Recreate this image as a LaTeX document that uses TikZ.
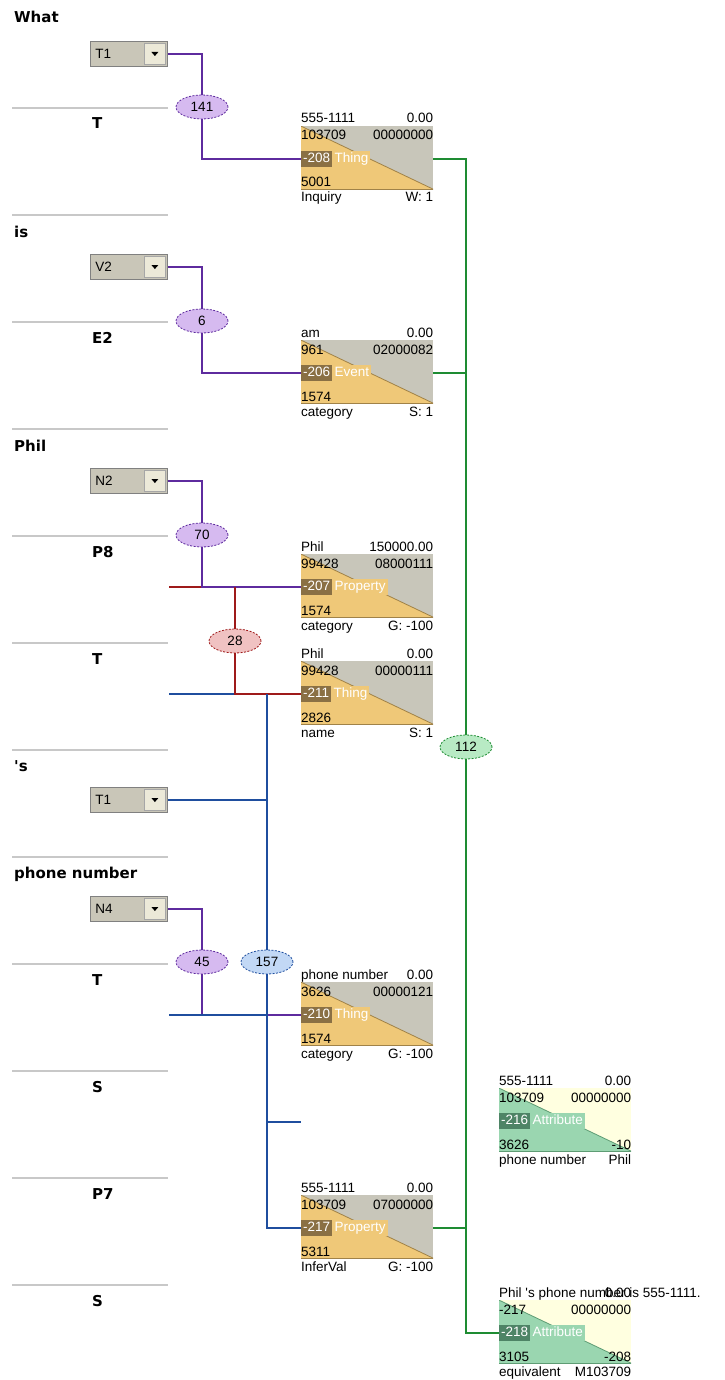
\documentclass[tikz,border=0pt]{standalone}
\usepackage{fontspec}
\setmainfont{Liberation Sans}
\newfontfamily\labfont{DejaVu Sans}
\usetikzlibrary{shapes.geometric, calc}

\definecolor{plum}{HTML}{5E2B9E}
\definecolor{plumsoft}{HTML}{D6BAF0}
\definecolor{brick}{HTML}{9E1A1A}
\definecolor{bricksoft}{HTML}{F0C2C2}
\definecolor{cobalt}{HTML}{1F4E9E}
\definecolor{cobaltsoft}{HTML}{C2D8F5}
\definecolor{leaf}{HTML}{1E8C32}
\definecolor{leafsoft}{HTML}{B8EAC4}
\definecolor{sand}{HTML}{C8C6BA}
\definecolor{ochre}{HTML}{EFC878}
\definecolor{umber}{HTML}{8A7044}
\definecolor{umberline}{HTML}{A08248}
\definecolor{cream}{HTML}{FFFFE0}
\definecolor{mint}{HTML}{9AD6B0}
\definecolor{pine}{HTML}{4E8466}
\definecolor{pineline}{HTML}{5E9C74}
\definecolor{winface}{HTML}{C9C6B8}
\definecolor{winbtn}{HTML}{ECE9D8}
\definecolor{winedge}{HTML}{808080}
\definecolor{rule}{HTML}{C8C8C8}

\newcommand{\ktfont}{\fontsize{13.5pt}{15pt}\selectfont}
\newcommand{\lbfont}{\labfont\bfseries\fontsize{15pt}{18pt}\selectfont}

% texts above, inside and below a concept box
\newcommand{\ktexts}[9]{%
  \node[ktxt, anchor=base west] (#1a) at ($(#1.north west)+(0,-3)$) {#2};
  \node[ktxt, anchor=base east] (#1b) at ($(#1.north east)+(0,-3)$) {#3};
  \node[ktxt, anchor=base west] (#1c) at ($(#1.north west)+(0,14)$) {#4};
  \node[ktxt, anchor=base east] (#1d) at ($(#1.north east)+(0,14)$) {#5};
  \node[ktxt, anchor=base west] (#1e) at ($(#1.north west)+(0,61)$) {#6};
  \node[ktxt, anchor=base east] (#1f) at ($(#1.north east)+(0,61)$) {#7};
  \node[ktxt, anchor=base west] (#1g) at ($(#1.north west)+(0,76)$) {#8};
  \node[ktxt, anchor=base east] (#1h) at ($(#1.north east)+(0,76)$) {#9};}
% number and type tag of a concept box
\newcommand{\ktag}[5]{%
  \node[tagnum, fill=#4] (#1num) at ($(#1.north west)+(0,33)$) {#2};
  \node[tagnum, fill=#5] (#1type) at (#1num.east) {#3};
  \coordinate (#1in) at (#1num.west);
  \coordinate (#1out) at (#1num.west -| #1.east);}

\begin{document}
\begin{tikzpicture}[x=1pt, y=-1pt]
  \tikzstyle{word}=[anchor=base west, inner sep=0pt, font=\lbfont]
  \tikzstyle{sepline}=[draw=rule, line width=1.5pt]
  \tikzstyle{ktxt}=[inner sep=0pt, font=\ktfont]
  \tikzstyle{tagnum}=[anchor=west, inner xsep=2pt, inner ysep=0pt,
    minimum height=16pt, text height=9.7pt, text depth=2.8pt,
    text=white, font=\ktfont]
  \tikzstyle{oval}=[ellipse, minimum width=52pt, minimum height=24pt,
    inner sep=0pt, line width=0.8pt, dash pattern=on 2pt off 1.5pt,
    font=\ktfont]
  \tikzstyle{combo}=[anchor=west, draw=winedge, fill=winface,
    line width=0.8pt, minimum height=25pt, text width=67pt,
    inner xsep=5pt, inner ysep=0pt, align=left, font=\ktfont,
    path picture={
      \draw[fill=winbtn, draw=winedge!70, line width=0.6pt]
        ($(path picture bounding box.north east)+(-2pt,-2pt)$) rectangle
        ($(path picture bounding box.south east)+(-23pt,2pt)$);
      \fill[black] ($(path picture bounding box.east)+(-16pt,2pt)$)
        -- ++(7pt,0pt) -- ++(-3.5pt,-4pt) -- cycle;}]
  \tikzstyle{kbox}=[anchor=north west, minimum width=132pt,
    minimum height=63pt, inner sep=0pt, fill=sand,
    path picture={
      \fill[ochre] (path picture bounding box.north west)
        -- (path picture bounding box.south west)
        -- (path picture bounding box.south east) -- cycle;
      \draw[umberline, line width=0.8pt] (path picture bounding box.north west)
        -- (path picture bounding box.south east);
      \draw[umberline, line width=1.2pt] (path picture bounding box.south west)
        -- (path picture bounding box.south east);}]
  \tikzstyle{gbox}=[anchor=north west, minimum width=132pt,
    minimum height=63pt, inner sep=0pt, fill=cream,
    path picture={
      \fill[mint] (path picture bounding box.north west)
        -- (path picture bounding box.south west)
        -- (path picture bounding box.south east) -- cycle;
      \draw[pineline, line width=0.8pt] (path picture bounding box.north west)
        -- (path picture bounding box.south east);
      \draw[pineline, line width=1.2pt] (path picture bounding box.south west)
        -- (path picture bounding box.south east);}]
  \tikzstyle{pline}=[draw=plum, line width=2.3pt]
  \tikzstyle{rline}=[draw=brick, line width=2.3pt]
  \tikzstyle{bline}=[draw=cobalt, line width=2.3pt]
  \tikzstyle{gline}=[draw=leaf, line width=2.3pt]

  \fill[white] (0,0) rectangle (724,1380);
  \useasboundingbox (0,0) rectangle (724,1380);

  % left column
  \foreach \k in {0,...,11}
    \draw[sepline] (12,{108+107*\k}) -- (168,{108+107*\k});

  \node[word] (wWhat) at (14,23) {What};
  \node[word] (wIs) at (14,237) {is};
  \node[word] (wPhil) at (14,451) {Phil};
  \node[word] (wS) at (14,771) {\textquotesingle s};
  \node[word] (wPhone) at (14,878) {phone number};

  \node[word] (kT) at (92,129) {T};
  \node[word] (kE2) at (92,343) {E2};
  \node[word] (kP8) at (92,557) {P8};
  \node[word] (kTb) at (92,664) {T};
  \node[word] (kTc) at (92,985) {T};
  \node[word] (kS) at (92,1092) {S};
  \node[word] (kP7) at (92,1199) {P7};
  \node[word] (kSb) at (92,1306) {S};

  \node[combo] (cT1) at (90,54) {T1};
  \node[combo] (cV2) at (90,267) {V2};
  \node[combo] (cN2) at (90,481) {N2};
  \node[combo] (cT1b) at (90,800) {T1};
  \node[combo] (cN4) at (90,909) {N4};

  % concept boxes
  \node[kbox] (b208) at (301,126) {};
  \ktag{b208}{-208}{Thing}{umber}{ochre}
  \ktexts{b208}{555-1111}{0.00}{103709}{00000000}{5001}{}{Inquiry}{W: 1}

  \node[kbox] (b206) at (301,340) {};
  \ktag{b206}{-206}{Event}{umber}{ochre}
  \ktexts{b206}{am}{0.00}{961}{02000082}{1574}{}{category}{S: 1}

  \node[kbox] (b207) at (301,554) {};
  \ktag{b207}{-207}{Property}{umber}{ochre}
  \ktexts{b207}{Phil}{150000.00}{99428}{08000111}{1574}{}{category}{G: -100}

  \node[kbox] (b211) at (301,661) {};
  \ktag{b211}{-211}{Thing}{umber}{ochre}
  \ktexts{b211}{Phil}{0.00}{99428}{00000111}{2826}{}{name}{S: 1}

  \node[kbox] (b210) at (301,982) {};
  \ktag{b210}{-210}{Thing}{umber}{ochre}
  \ktexts{b210}{phone number}{0.00}{3626}{00000121}{1574}{}{category}{G: -100}

  \node[kbox] (b217) at (301,1195) {};
  \ktag{b217}{-217}{Property}{umber}{ochre}
  \ktexts{b217}{555-1111}{0.00}{103709}{07000000}{5311}{}{InferVal}{G: -100}

  \node[gbox] (b216) at (499,1088) {};
  \ktag{b216}{-216}{Attribute}{pine}{mint}
  \ktexts{b216}{555-1111}{0.00}{103709}{00000000}{3626}{-10}{phone number}{Phil}

  \node[gbox] (b218) at (499,1300) {};
  \ktag{b218}{-218}{Attribute}{pine}{mint}
  \ktexts{b218}{Phil \textquotesingle s phone number is 555-1111.}{0.00}{-217}{00000000}{3105}{-208}{equivalent}{M103709}

  % relation ovals
  \node[oval, fill=plumsoft, draw=plum] (e141) at (202,107) {141};
  \node[oval, fill=plumsoft, draw=plum] (e6) at (202,321) {6};
  \node[oval, fill=plumsoft, draw=plum] (e70) at (202,535) {70};
  \node[oval, fill=bricksoft, draw=brick] (e28) at (235,641) {28};
  \node[oval, fill=plumsoft, draw=plum] (e45) at (202,962) {45};
  \node[oval, fill=cobaltsoft, draw=cobalt] (e157) at (267,962) {157};
  \node[oval, fill=leafsoft, draw=leaf] (e112) at (466,747) {112};

  \coordinate (lefte) at (169,0);
  \coordinate (p8end) at (b207in -| lefte);
  \coordinate (tend) at (b211in -| lefte);
  \coordinate (send) at (b210in -| lefte);
  \coordinate (stub) at (301,1122);

  % connectors
  \draw[rline, line width=1.2pt] (p8end) -- (e28 |- p8end);

  \draw[pline] (cT1.east) -| (e141.north);
  \draw[pline] (e141.south) |- (b208in);
  \draw[pline] (cV2.east) -| (e6.north);
  \draw[pline] (e6.south) |- (b206in);
  \draw[pline] (cN2.east) -| (e70.north);
  \draw[pline] (e70.south) |- (b207in);
  \draw[pline] (cN4.east) -| (e45.north);
  \draw[pline] (e45.south) |- (b210in);

  \draw[bline, line width=1.2pt] (tend) -- (e157 |- tend);

  \draw[rline] (e28.north) -- (e28 |- p8end);
  \draw[rline] (e28.south) |- (b211in);

  \draw[bline] (e157.north) -- (e157 |- tend);
  \draw[bline] (cT1b.east) -- (e157 |- cT1b.east);
  \draw[bline] (send) -- (e157 |- send);
  \draw[bline] (e157.south) |- (b217in);
  \draw[bline] (e157 |- stub) -- (stub);

  \draw[gline] (b208out) -| (e112.north);
  \draw[gline] (b206out) -- (e112 |- b206out);
  \draw[gline] (b217out) -- (e112 |- b217out);
  \draw[gline] (e112.south) |- (b218in);
\end{tikzpicture}
\end{document}
